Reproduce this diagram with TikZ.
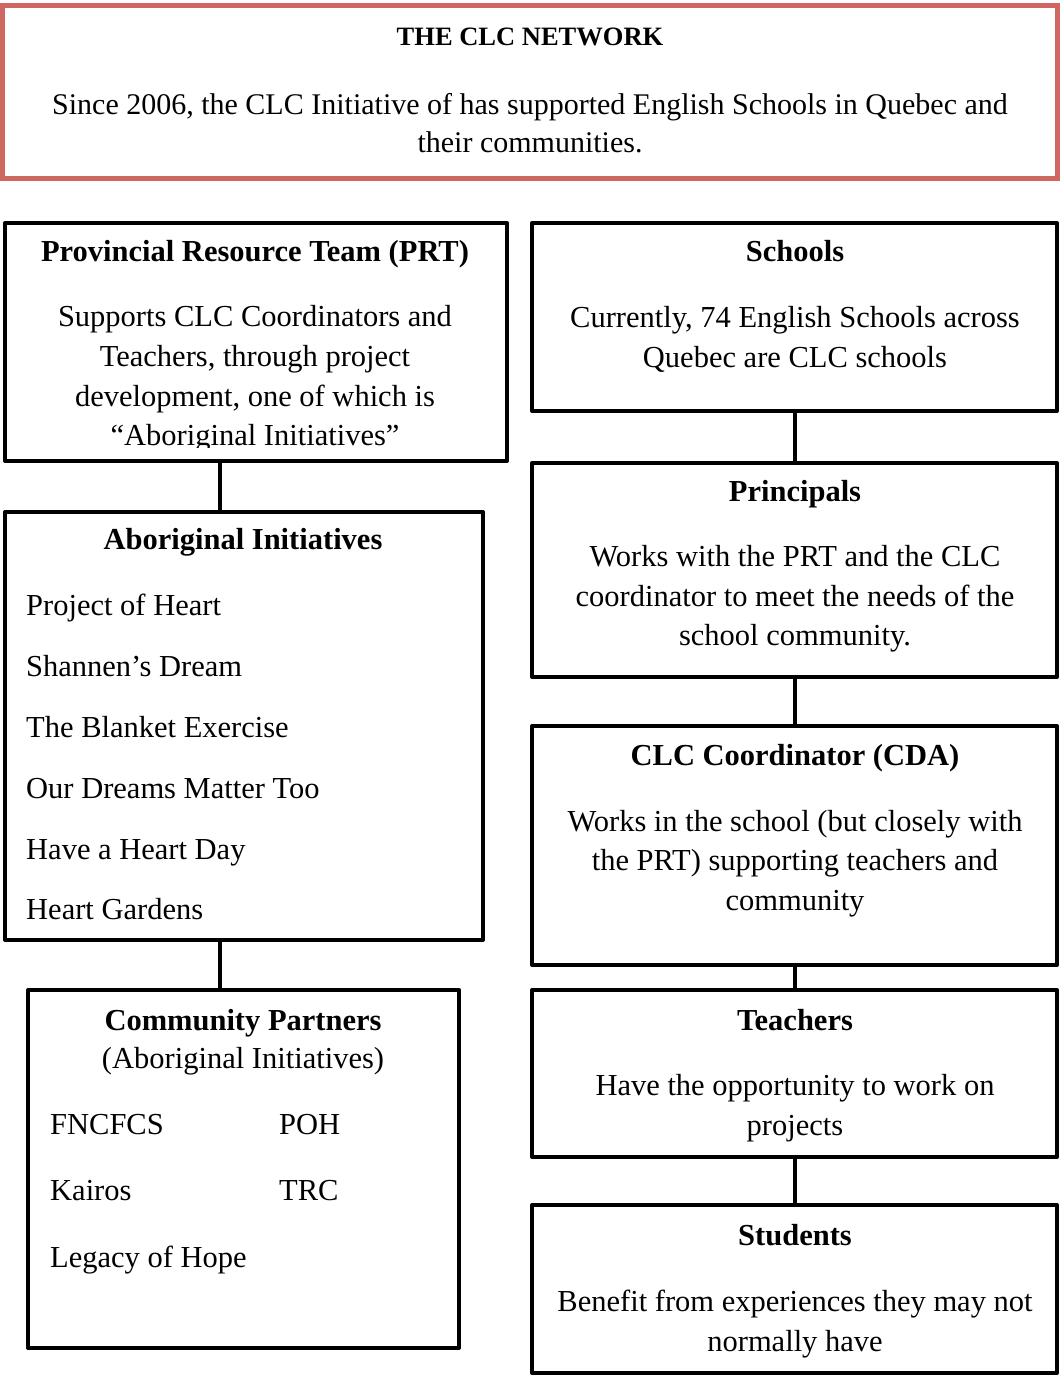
\documentclass[tikz,border=0pt]{standalone}
\usepackage{fontspec}
\setmainfont{Liberation Serif}
\definecolor{clcred}{RGB}{207,104,98}
\begin{document}
\begin{tikzpicture}[x=1pt,y=-1pt,
  box/.style={draw=black,line width=4pt,line join=round,minimum width=#1,inner sep=0pt,outer sep=0pt},
  redbox/.style={draw=clcred,line width=5pt,inner sep=0pt,outer sep=0pt,minimum width=1055pt,minimum height=172.5pt},
  txt/.style={font=\fontsize{30.5}{39.6}\selectfont,align=center,inner sep=0pt},
  ttl/.style={font=\fontsize{30.5}{39.6}\selectfont\bfseries,align=center,inner sep=0pt,text height=22pt,text depth=6pt},
  item/.style={font=\fontsize{30.5}{39.6}\selectfont,anchor=west,inner sep=0pt,text height=22pt,text depth=6pt},
  link/.style={line width=4pt,draw=black}]
\useasboundingbox (0,0) rectangle (1060,1376);
\fill[white] (0,0) rectangle (1060,1376);

% top red box
\node[redbox] (net) at (530,91.75) {};
\node[ttl,font=\fontsize{26.5}{30}\selectfont\bfseries] (netT) at (530,37) {THE CLC NETWORK};
\node[txt,font=\fontsize{30}{38}\selectfont] (netB) at (530,123) {Since 2006, the CLC Initiative of has supported English Schools in Quebec and\\their communities.};

% left column boxes
\node[box=502pt,minimum height=238pt] (prt) at (256,342) {};
\node[box=478pt,minimum height=428pt] (ai) at (244,726) {};
\node[box=431pt,minimum height=358pt] (cp) at (243.5,1169) {};

% right column boxes
\node[box=525pt,minimum height=188pt] (sch) at (794.5,317) {};
\node[box=525pt,minimum height=214pt] (pri) at (794.5,570) {};
\node[box=525pt,minimum height=239pt] (cda) at (794.5,845.5) {};
\node[box=525pt,minimum height=167pt] (tea) at (794.5,1073.5) {};
\node[box=525pt,minimum height=168pt] (stu) at (794.5,1289) {};

% connectors
\coordinate (lc) at (220,0);
\draw[link] (prt.south -| lc) -- (ai.north -| lc);
\draw[link] (ai.south -| lc) -- (cp.north -| lc);
\draw[link] (sch.south) -- (pri.north);
\draw[link] (pri.south) -- (cda.north);
\draw[link] (cda.south) -- (tea.north);
\draw[link] (tea.south) -- (stu.north);

% PRT text
\node[ttl] (prtT) at (255,253) {Provincial Resource Team (PRT)};
\begin{scope}
\clip (0,0) rectangle (530,447);
\node[txt] (prtB) at (255,379) {Supports CLC Coordinators and\\Teachers, through project\\development, one of which is\\“Aboriginal Initiatives”};
\end{scope}

% Aboriginal Initiatives
\node[ttl] (aiT) at (243,541) {Aboriginal Initiatives};
\node[item] (ai1) at (26,607) {Project of Heart};
\node[item] (ai2) at (26,668) {Shannen’s Dream};
\node[item] (ai3) at (26,729) {The Blanket Exercise};
\node[item] (ai4) at (26,790) {Our Dreams Matter Too};
\node[item] (ai5) at (26,851) {Have a Heart Day};
\node[item] (ai6) at (26,911) {Heart Gardens};

% Community Partners
\node[ttl] (cpT) at (243,1022) {Community Partners};
\node[item,anchor=center] (cpS) at (243,1060) {(Aboriginal Initiatives)};
\node[item] (cp1) at (50,1126) {FNCFCS};
\node[item] (cp2) at (279,1126) {POH};
\node[item] (cp3) at (50,1192) {Kairos};
\node[item] (cp4) at (279,1192) {TRC};
\node[item] (cp5) at (50,1259) {Legacy of Hope};

% right column text
\node[ttl] (schT) at (795,253) {Schools};
\node[txt] (schB) at (795,339.5) {Currently, 74 English Schools across\\Quebec are CLC schools};
\node[ttl] (priT) at (795,493) {Principals};
\node[txt] (priB) at (795,599) {Works with the PRT and the CLC\\coordinator to meet the needs of the\\school community.};
\node[ttl] (cdaT) at (795,757) {CLC Coordinator (CDA)};
\node[txt] (cdaB) at (795,863.5) {Works in the school (but closely with\\the PRT) supporting teachers and\\community};
\node[ttl] (teaT) at (795,1022) {Teachers};
\node[txt] (teaB) at (795,1108) {Have the opportunity to work on\\projects};
\node[ttl] (stuT) at (795,1237) {Students};
\node[txt] (stuB) at (795,1324) {Benefit from experiences they may not\\normally have};
\end{tikzpicture}
\end{document}
